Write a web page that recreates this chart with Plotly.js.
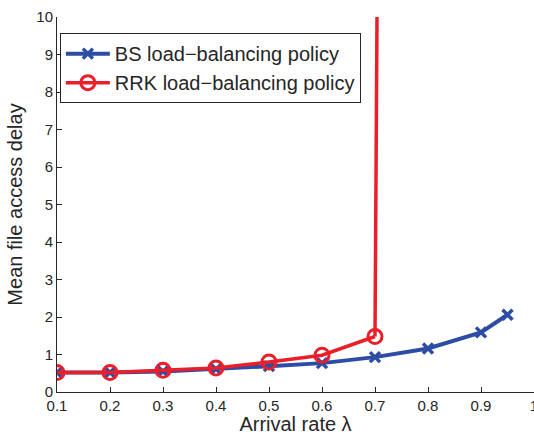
<!DOCTYPE html>
<html><head><meta charset="utf-8">
<script src="https://cdn.plot.ly/plotly-3.0.1.min.js"></script>
<style>html,body{margin:0;padding:0;background:#fff}#c{width:534px;height:435px}</style>
</head><body><div id="c"></div>
<script>
const bsX = [0.1, 0.2, 0.3, 0.4, 0.5, 0.6, 0.7, 0.8, 0.9, 0.95];
const bsY = [0.52, 0.52, 0.55, 0.61, 0.69, 0.77, 0.93, 1.16, 1.59, 2.06];
const rrkX = [0.1, 0.2, 0.3, 0.4, 0.5, 0.6, 0.7];
const rrkY = [0.52, 0.52, 0.58, 0.64, 0.8, 0.98, 1.48];
const rrkTailX = [0.7, 0.71];
const rrkTailY = [1.48, 24];
const xTicks = [0.1, 0.2, 0.3, 0.4, 0.5, 0.6, 0.7, 0.8, 0.9, 1];
const xTickLabels = ['0.1','0.2','0.3','0.4','0.5','0.6','0.7','0.8','0.9','1'];
const yTicks = [0,1,2,3,4,5,6,7,8,9,10];

const blue = '#2c4da3';
const red = '#ea1f29';
const font = 'Liberation Sans, Arial, sans-serif';
const ink = '#262626';

const traces = [
  {x: rrkTailX, y: rrkTailY, mode: 'lines', line: {color: red, width: 3.5}, showlegend: false, hoverinfo: 'skip'},
  {x: bsX, y: bsY, mode: 'lines+markers', name: 'BS load\u2212balancing policy',
   line: {color: blue, width: 4}, marker: {symbol: 'x-thin', size: 10, line: {color: blue, width: 3.5}, color: blue}},
  {x: rrkX, y: rrkY, mode: 'lines+markers', name: 'RRK load\u2212balancing policy',
   line: {color: red, width: 3.5}, marker: {symbol: 'circle-open', size: 14, line: {color: red, width: 3}, color: red}}
];

const layout = {
  width: 534, height: 435,
  margin: {l: 57, r: 0, t: 17, b: 43},
  paper_bgcolor: '#fff', plot_bgcolor: '#fff',
  font: {family: font, color: ink},
  showlegend: true,
  legend: {x: 0.006, y: 0.957, xanchor: 'left', yanchor: 'top',
    bgcolor: '#fff', bordercolor: ink, borderwidth: 1,
    font: {size: 20, family: font, color: ink}, tracegroupgap: 0, itemwidth: 44},
  xaxis: {range: [0.1, 1], tickvals: xTicks, ticktext: xTickLabels, ticklabeloverflow: 'allow',
    ticks: 'inside', ticklen: 5, tickcolor: ink, showline: true, linecolor: ink, linewidth: 1,
    showgrid: false, zeroline: false, tickfont: {size: 15, family: font, color: ink},
    title: {text: 'Arrival rate \u03bb', font: {size: 20, family: font, color: ink}, standoff: 1}},
  yaxis: {range: [0, 10], tickvals: yTicks,
    ticks: 'inside', ticklen: 5, tickcolor: ink, showline: true, linecolor: ink, linewidth: 1,
    showgrid: false, zeroline: false, tickfont: {size: 15, family: font, color: ink},
    title: {text: 'Mean file access delay', font: {size: 20, family: font, color: ink}, standoff: 8}}
};
Plotly.newPlot('c', traces, layout, {displayModeBar: false, staticPlot: true});
</script></body></html>
